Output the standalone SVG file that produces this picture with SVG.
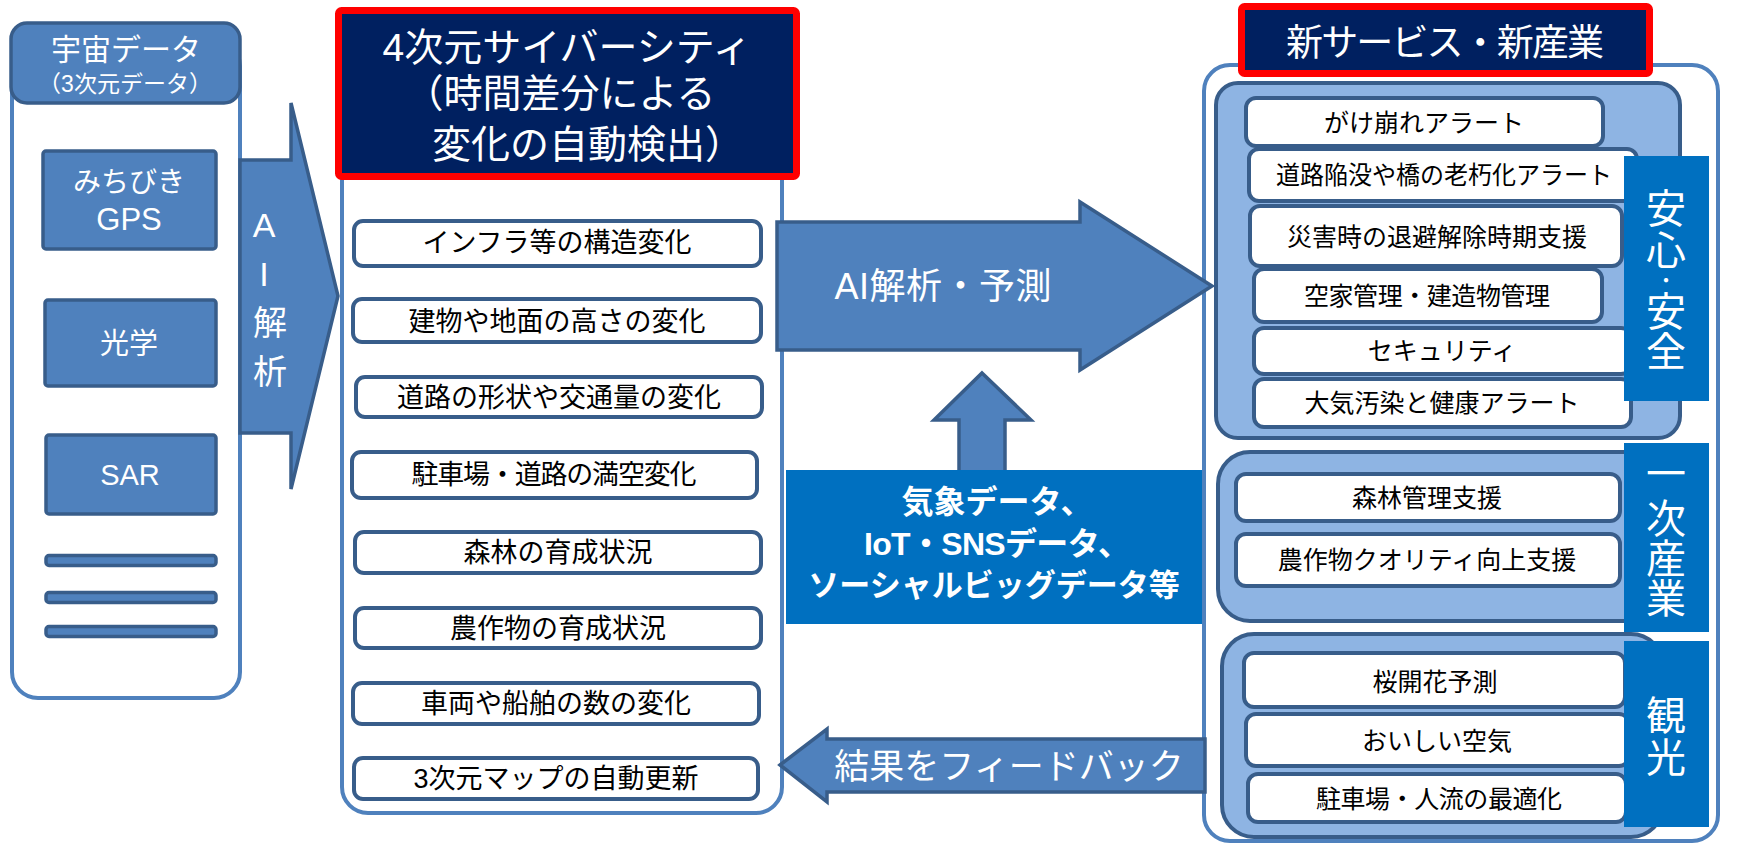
<svg xmlns="http://www.w3.org/2000/svg" width="1748" height="844" viewBox="0 0 1748 844">
<style>
text{font-family:"Liberation Sans","Noto Sans CJK JP",sans-serif;}
.panel{fill:#FFFFFF;stroke:#4F81BD;stroke-width:4;}
.blue{fill:#4F81BD;stroke:#385D8A;stroke-width:3.5;}
.item{fill:#FFFFFF;stroke:#385D8A;stroke-width:4;}
.grp{fill:#8EB4E3;stroke:#385D8A;stroke-width:4;}
.lbl{fill:#0070C0;}
.title{fill:#002060;stroke:#FF0000;stroke-width:7;}
.w{fill:#FFFFFF;text-anchor:middle;}
.k{fill:#000000;text-anchor:middle;}
.it{font-size:27px;}
.ri{font-size:25px;}
.vt{font-size:40px;fill:#FFFFFF;text-anchor:middle;}
</style>

<!-- Left panel: space data -->
<g id="space-data">
  <rect class="panel" x="12" y="40" width="228" height="658" rx="26"/>
  <rect class="blue" x="11" y="23" width="229" height="80" rx="16" stroke-width="4"/>
  <text class="w" x="126" y="60" font-size="30">宇宙データ</text>
  <text class="w" x="125" y="92" font-size="23">（3次元データ）</text>
</g>
<g id="michibiki">
  <rect class="blue" x="43" y="151" width="173" height="98" rx="3"/>
  <text class="w" x="129" y="192" font-size="28">みちびき</text>
  <text class="w" x="129" y="230" font-size="31">GPS</text>
</g>
<g id="optical">
  <rect class="blue" x="45" y="300" width="171" height="86" rx="3"/>
  <text class="w" x="129" y="354" font-size="29">光学</text>
</g>
<g id="sar">
  <rect class="blue" x="46" y="435" width="170" height="79" rx="3"/>
  <text class="w" x="130" y="485" font-size="29">SAR</text>
</g>
<g id="more-lines">
  <rect class="blue" x="46" y="555.5" width="170" height="10" rx="3"/>
  <rect class="blue" x="46" y="592.5" width="170" height="10" rx="3"/>
  <rect class="blue" x="46" y="626.5" width="170" height="10" rx="3"/>
</g>

<!-- Middle panel: 4D cyber city -->
<g id="cyber-city">
  <rect class="panel" x="342" y="100" width="440" height="713" rx="26"/>
  <rect class="title" x="338.5" y="10.5" width="458" height="166" rx="3"/>
  <text class="w" x="567" y="61" font-size="39">4次元サイバーシティ</text>
  <text class="w" x="560" y="107" font-size="39">（時間差分による</text>
  <text class="w" x="588" y="158" font-size="39">変化の自動検出）</text>
</g>
<g id="m1"><rect class="item" x="354" y="221" width="407" height="45" rx="9"/><text class="k it" x="557" y="252">インフラ等の構造変化</text></g>
<g id="m2"><rect class="item" x="353" y="299" width="408" height="43" rx="9"/><text class="k it" x="557" y="331">建物や地面の高さの変化</text></g>
<g id="m3"><rect class="item" x="356" y="377" width="406" height="40" rx="9"/><text class="k it" x="559" y="407">道路の形状や交通量の変化</text></g>
<g id="m4"><rect class="item" x="352" y="452" width="405" height="46" rx="9"/><text class="k it" x="554" y="484" textLength="285" lengthAdjust="spacing">駐車場・道路の満空変化</text></g>
<g id="m5"><rect class="item" x="355" y="532" width="406" height="41" rx="9"/><text class="k it" x="558" y="562">森林の育成状況</text></g>
<g id="m6"><rect class="item" x="355" y="608" width="406" height="40" rx="9"/><text class="k it" x="558" y="638">農作物の育成状況</text></g>
<g id="m7"><rect class="item" x="353" y="683" width="406" height="41" rx="9"/><text class="k it" x="556" y="713">車両や船舶の数の変化</text></g>
<g id="m8"><rect class="item" x="354" y="758" width="404" height="41" rx="9"/><text class="k it" x="556" y="788">3次元マップの自動更新</text></g>

<!-- Right panel: new services -->
<g id="new-services">
  <rect class="panel" x="1204" y="65" width="514" height="776" rx="26"/>
  <rect class="title" x="1241.5" y="6.5" width="408" height="67" rx="3"/>
  <text class="w" x="1445" y="56" font-size="37" textLength="318" lengthAdjust="spacing">新サービス・新産業</text>
</g>
<g id="safety">
  <rect class="grp" x="1216" y="83" width="464" height="355" rx="22"/>
  <g id="r1"><rect class="item" x="1246" y="98" width="357" height="48" rx="10"/><text class="k ri" x="1424" y="132">がけ崩れアラート</text></g>
  <g id="r2"><rect class="item" x="1249" y="149" width="388" height="52" rx="10"/><text class="k ri" x="1444" y="184" textLength="336" lengthAdjust="spacingAndGlyphs">道路陥没や橋の老朽化アラート</text></g>
  <g id="r3"><rect class="item" x="1250" y="206" width="372" height="60" rx="10"/><text class="k ri" x="1437" y="246">災害時の退避解除時期支援</text></g>
  <g id="r4"><rect class="item" x="1254" y="269" width="348" height="53" rx="10"/><text class="k ri" x="1427" y="305" textLength="246" lengthAdjust="spacing">空家管理・建造物管理</text></g>
  <g id="r5"><rect class="item" x="1254" y="328" width="377" height="46" rx="10"/><text class="k ri" x="1442" y="360">セキュリティ</text></g>
  <g id="r6"><rect class="item" x="1254" y="379" width="377" height="48" rx="10"/><text class="k ri" x="1442" y="412">大気汚染と健康アラート</text></g>
  <rect class="lbl" x="1624" y="156" width="85" height="245"/>
  <text class="vt"><tspan x="1666" y="223">安</tspan><tspan x="1666" y="265">心</tspan><tspan x="1666" y="288" font-size="20">・</tspan><tspan x="1666" y="326">安</tspan><tspan x="1666" y="366">全</tspan></text>
</g>
<g id="primary">
  <rect class="grp" x="1218" y="452" width="462" height="169" rx="32"/>
  <g id="r7"><rect class="item" x="1236" y="474" width="384" height="47" rx="10"/><text class="k ri" x="1427" y="507">森林管理支援</text></g>
  <g id="r8"><rect class="item" x="1236" y="534" width="384" height="52" rx="10"/><text class="k ri" x="1427" y="569">農作物クオリティ向上支援</text></g>
  <rect class="lbl" x="1624" y="443" width="85" height="189"/>
  <text class="vt"><tspan x="1666" y="488">一</tspan><tspan x="1666" y="533">次</tspan><tspan x="1666" y="573">産</tspan><tspan x="1666" y="613">業</tspan></text>
</g>
<g id="tourism">
  <rect class="grp" x="1222" y="634" width="441" height="203" rx="32"/>
  <g id="r9"><rect class="item" x="1244" y="653" width="381" height="54" rx="10"/><text class="k ri" x="1435" y="691">桜開花予測</text></g>
  <g id="r10"><rect class="item" x="1246" y="714" width="383" height="52" rx="10"/><text class="k ri" x="1437" y="750">おいしい空気</text></g>
  <g id="r11"><rect class="item" x="1248" y="774" width="378" height="48" rx="10"/><text class="k ri" x="1439" y="808" textLength="246" lengthAdjust="spacing">駐車場・人流の最適化</text></g>
  <rect class="lbl" x="1624" y="641" width="85" height="186"/>
  <text class="vt"><tspan x="1666" y="730">観</tspan><tspan x="1666" y="772">光</tspan></text>
</g>

<!-- Connectors -->
<g id="connectors">
  <path class="blue" d="M240,160 L291,160 L291,103 L338,296 L291,489 L291,433 L240,433 Z"/>
  <text class="w" font-size="34"><tspan x="264" y="237">A</tspan><tspan x="264" y="286">I</tspan><tspan x="270" y="335">解</tspan><tspan x="270" y="384">析</tspan></text>

  <path class="blue" d="M777,222 L1080,222 L1080,202 L1212,286 L1080,370 L1080,350 L777,350 Z"/>
  <text class="w" x="943" y="299" font-size="36" textLength="217" lengthAdjust="spacing">AI解析・予測</text>

  <path class="blue" d="M982,373 L1031,420 L1005,420 L1005,474 L959,474 L959,420 L934,420 Z"/>

  <path class="blue" d="M780,765 L827,729 L827,739 L1205,739 L1205,792 L827,792 L827,802 Z"/>
  <text class="w" x="1009" y="779" font-size="35">結果をフィードバック</text>
</g>

<g id="external-data">
  <rect class="lbl" x="786" y="470" width="416" height="154"/>
  <text class="w" x="997" y="513" font-size="32" font-weight="bold">気象データ、</text>
  <text class="w" x="997" y="555" font-size="32" font-weight="bold" textLength="266" lengthAdjust="spacing">IoT・SNSデータ、</text>
  <text class="w" x="994" y="596" font-size="31" font-weight="bold">ソーシャルビッグデータ等</text>
</g>
</svg>
